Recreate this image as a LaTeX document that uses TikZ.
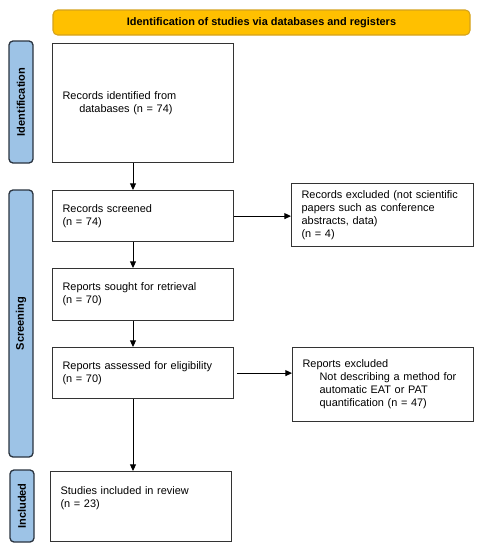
\documentclass[tikz,border=0pt]{standalone}
\usepackage{fontspec}
\setmainfont{Liberation Sans}
\usetikzlibrary{arrows.meta}
\definecolor{gold}{HTML}{FFC000}
\definecolor{goldline}{HTML}{D4A21C}
\definecolor{sideblue}{HTML}{9DC3E6}
\definecolor{sideline}{HTML}{2A3440}
\definecolor{boxline}{HTML}{333333}
\begin{document}
\begin{tikzpicture}[x=0.75pt,y=-0.75pt,
  box/.style={draw=boxline, line width=0.9pt, fill=white, anchor=north west,
    inner xsep=7.5pt, inner ysep=0pt, align=left, text width=120.75pt,
    font=\fontsize{8.2}{9.75}\selectfont},
  side/.style={draw=sideline, line width=1pt, fill=sideblue, rounded corners=3pt,
    rotate=90, minimum height=18pt, inner sep=0pt,
    font=\fontsize{8.3}{10}\selectfont\bfseries},
  title/.style={draw=goldline, line width=0.8pt, fill=gold, rounded corners=3.5pt,
    minimum width=312.75pt, minimum height=18.75pt, inner sep=0pt,
    font=\fontsize{8.2}{10}\selectfont\bfseries},
  arr/.style={draw=black, line width=0.75pt, -{Triangle[length=5pt,width=4.5pt]}}]
\useasboundingbox (0,0) rectangle (480,550);

\node[title] (T) at (261.5,22.5) {Identification of studies via databases and registers};

\node[side, minimum width=91.5pt] (S1) at (21,102) {Identification};
\node[side, minimum width=200.25pt] (S2) at (21,323.5) {Screening};
\node[side, minimum width=54pt] (S3) at (22,506) {Included};

\node[box, minimum height=89.25pt] (B1) at (52,43)
  {Records identified from\\\hspace*{12.5pt}databases (n = 74)};
\node[box, minimum height=38.25pt] (B2) at (52,190)
  {Records screened\\(n = 74)};
\node[box, minimum height=39pt] (B3) at (52,268)
  {Reports sought for retrieval\\(n = 70)};
\node[box, minimum height=38.25pt] (B4) at (52,347)
  {Reports assessed for eligibility\\(n = 70)};
\node[box, minimum height=52.5pt] (B5) at (50,471)
  {Studies included in review\\(n = 23)\\[4pt]\mbox{}};

\node[box, text width=121.5pt, minimum height=47.25pt] (E1) at (291,183)
  {Records excluded (not scientific\\papers such as conference\\abstracts, data)\\(n = 4)};
\node[box, minimum height=55.5pt] (E2) at (292,347)
  {Reports excluded\\\hspace*{12.75pt}Not describing a method for\\\hspace*{12.75pt}automatic EAT or PAT\\\hspace*{12.75pt}quantification (n = 47)};

\coordinate (ax) at (133,0);
\draw[arr] (B1.south -| ax) -- (B2.north -| ax);
\draw[arr] (B2.south -| ax) -- (B3.north -| ax);
\draw[arr] (B3.south -| ax) -- (B4.north -| ax);
\draw[arr] (B4.south -| ax) -- (B5.north -| ax);
\draw[arr] (B2.east) -- (B2.east -| E1.west);
\draw[arr, shorten <=2pt] (B4.east) -- (B4.east -| E2.west);
\end{tikzpicture}
\end{document}
